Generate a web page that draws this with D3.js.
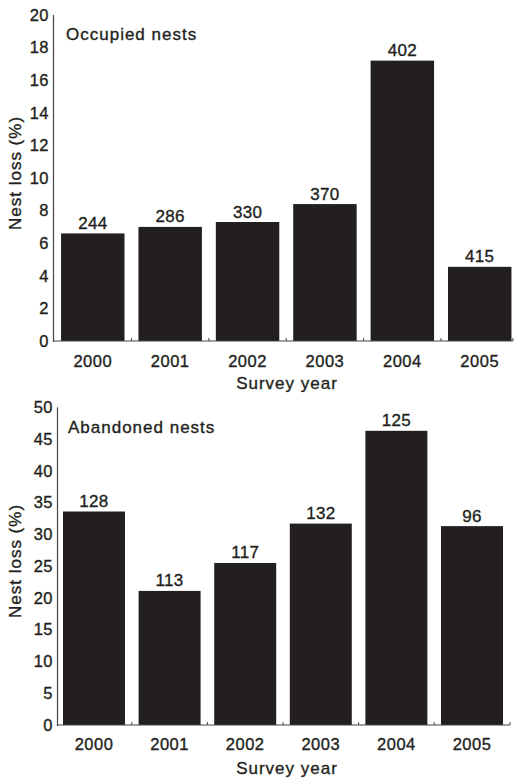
<!DOCTYPE html>
<html>
<head>
<meta charset="utf-8">
<script src="https://cdn.jsdelivr.net/npm/d3@7"></script>
<style>
  html, body { margin: 0; padding: 0; background: #fff; }
  svg { display: block; font-family: "Liberation Sans", Arial, sans-serif; }
  svg text { stroke: #231f20; stroke-width: 0.35px; }
</style>
</head>
<body>
<svg id="chart" width="514" height="779"></svg>
<script>
// ---- data ----
const years = ["2000", "2001", "2002", "2003", "2004", "2005"];
const occupiedLoss = [6.6, 7.0, 7.3, 8.4, 17.2, 4.55];
const occupiedN = [244, 286, 330, 370, 402, 415];
const abandonedLoss = [33.6, 21.1, 25.5, 31.7, 46.3, 31.3];
const abandonedN = [128, 113, 117, 132, 125, 96];
const occupiedTicks = [0, 2, 4, 6, 8, 10, 12, 14, 16, 18, 20];
const abandonedTicks = [0, 5, 10, 15, 20, 25, 30, 35, 40, 45, 50];
const panelTitles = ["Occupied nests", "Abandoned nests"];
const xTitle = "Survey year";
const yTitle = "Nest loss (%)";

const ink = "#231f20";
const svg = d3.select("#chart");

function panel(cfg) {
  const g = svg.append("g");
  const x = d3.scaleBand().domain(years).range(cfg.barRange).paddingInner(0.18).paddingOuter(0.02);
  const y = d3.scaleLinear().domain([0, cfg.max]).range([cfg.y0, cfg.y1]);

  // bars
  g.selectAll("rect.bar").data(years).join("rect")
    .attr("x", d => x(d)).attr("width", x.bandwidth())
    .attr("y", (d, i) => y(cfg.values[i]))
    .attr("height", (d, i) => y(0) - y(cfg.values[i]))
    .attr("fill", ink);

  // bar labels
  g.selectAll("text.n").data(years).join("text")
    .attr("x", d => x(d) + x.bandwidth() / 2)
    .attr("y", (d, i) => y(cfg.values[i]) - 4.5)
    .attr("text-anchor", "middle")
    .attr("font-size", 17).attr("letter-spacing", 0.3)
    .attr("fill", ink)
    .text((d, i) => cfg.counts[i]);

  // y axis
  const yAxis = d3.axisLeft(y).tickValues(cfg.ticks).tickSize(3).tickPadding(1).tickSizeOuter(0);
  const ya = g.append("g").attr("transform", `translate(${cfg.axisX},0)`).call(yAxis);
  ya.select(".domain").attr("stroke", "#444").attr("stroke-width", 1.2);
  ya.selectAll(".tick line").attr("stroke", "#444").attr("x2", 1);
  ya.selectAll(".tick text").attr("font-size", 16.5).attr("letter-spacing", 0.5)
    .attr("fill", ink).attr("font-family", "Liberation Sans, Arial, sans-serif");

  // x axis
  const xAxis = d3.axisBottom(x).tickSize(0).tickPadding(0).tickSizeOuter(0);
  const xa = g.append("g").attr("transform", `translate(0,${cfg.y0})`).call(xAxis);
  xa.select(".domain").remove();
  xa.selectAll(".tick text").attr("font-size", 16.5).attr("letter-spacing", 0.5)
    .attr("fill", ink).attr("font-family", "Liberation Sans, Arial, sans-serif")
    .attr("dy", null).attr("y", cfg.xLabelOffset);
  g.append("line").attr("x1", cfg.axisX).attr("x2", cfg.axisEnd)
    .attr("y1", cfg.y0).attr("y2", cfg.y0).attr("stroke", "#444").attr("stroke-width", 1.2);
  // small inner ticks between bars and at axis end
  const gaps = years.slice(1).map(d => x(d) - x.step() * x.paddingInner() / 2);
  gaps.push(cfg.axisEnd);
  g.selectAll("line.xt").data(gaps).join("line")
    .attr("x1", d => d).attr("x2", d => d)
    .attr("y1", cfg.y0).attr("y2", cfg.y0 - 3)
    .attr("stroke", "#444").attr("stroke-width", 1);

  // panel title
  g.append("text").attr("x", cfg.titleX).attr("y", cfg.titleY)
    .attr("font-size", 17).attr("letter-spacing", 1).attr("fill", ink)
    .text(cfg.title);

  // x title
  g.append("text").attr("x", cfg.xTitleX).attr("y", cfg.xTitleY)
    .attr("text-anchor", "middle")
    .attr("font-size", 17).attr("letter-spacing", 1).attr("fill", ink)
    .text(xTitle);

  // y title
  g.append("text")
    .attr("transform", `translate(15,${cfg.yTitleY}) rotate(-90)`)
    .attr("text-anchor", "middle").attr("dominant-baseline", "central")
    .attr("font-size", 17).attr("letter-spacing", 1).attr("fill", ink)
    .text(yTitle);
}

panel({
  values: occupiedLoss, counts: occupiedN, ticks: occupiedTicks, max: 20,
  barRange: [59.5, 513], axisX: 53, axisEnd: 513, y0: 341, y1: 15,
  xLabelOffset: 26, title: panelTitles[0], titleX: 66, titleY: 40,
  xTitleX: 287, xTitleY: 389, yTitleY: 173
});
panel({
  values: abandonedLoss, counts: abandonedN, ticks: abandonedTicks, max: 50,
  barRange: [61.5, 504.5], axisX: 57, axisEnd: 510, y0: 725, y1: 407.3,
  xLabelOffset: 25, title: panelTitles[1], titleX: 68, titleY: 433,
  xTitleX: 287, xTitleY: 774, yTitleY: 561
});
</script>
</body>
</html>
